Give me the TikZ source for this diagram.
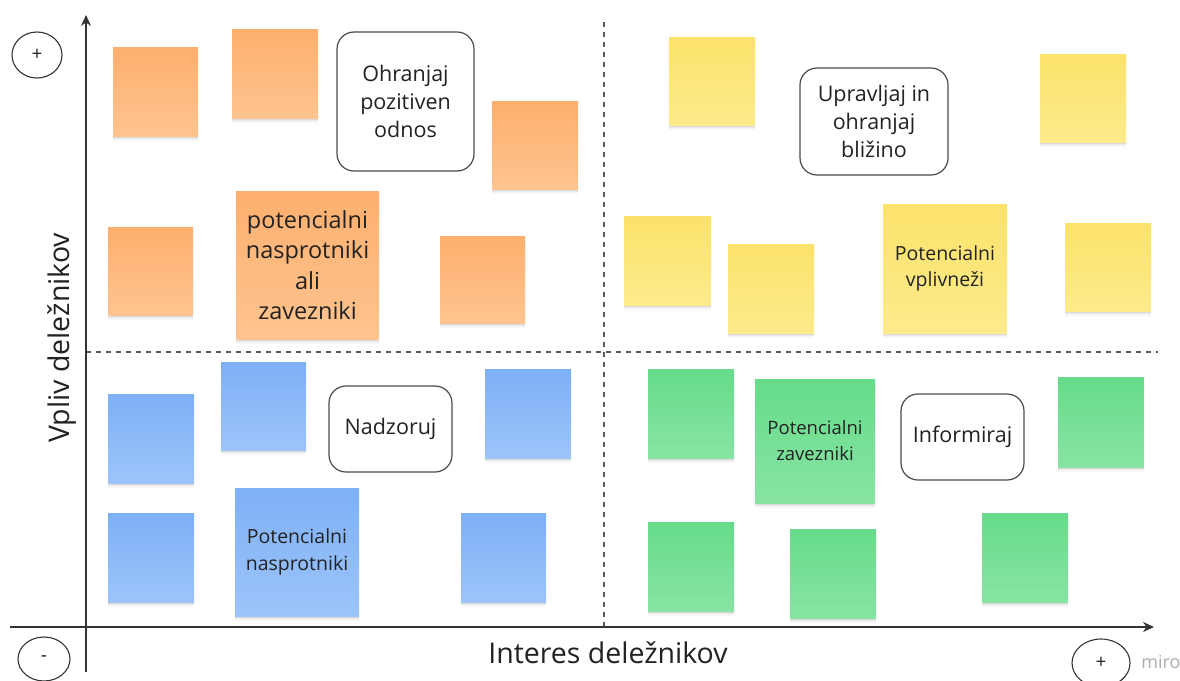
\documentclass[tikz,border=0pt]{standalone}
\usepackage{fontspec}
\setmainfont{Open Sans}
\usetikzlibrary{arrows.meta,shapes.geometric}

\definecolor{ink}{HTML}{222222}
\definecolor{axis}{HTML}{333333}
\definecolor{frame}{HTML}{4A4A4A}
\definecolor{orangeT}{HTML}{FDAF6E}
\definecolor{orangeB}{HTML}{FFC48F}
\definecolor{yellowT}{HTML}{FBE26A}
\definecolor{yellowB}{HTML}{FDEB8C}
\definecolor{blueT}{HTML}{7EB0F5}
\definecolor{blueB}{HTML}{9DC4FA}
\definecolor{greenT}{HTML}{66DC8A}
\definecolor{greenB}{HTML}{88E4A3}

\tikzset{
  % sticky note with a soft shadow falling below it
  note/.style={rectangle, inner sep=0pt, draw=none, text=ink, align=center,
    preaction={fill=black, opacity=0.035, transform canvas={yshift=-5pt}},
    preaction={fill=black, opacity=0.05, transform canvas={yshift=-3pt}},
    preaction={fill=black, opacity=0.06, transform canvas={yshift=-1.5pt}}},
  orangenote/.style={note, top color=orangeT, bottom color=orangeB},
  yellownote/.style={note, top color=yellowT, bottom color=yellowB},
  bluenote/.style={note, top color=blueT, bottom color=blueB},
  greennote/.style={note, top color=greenT, bottom color=greenB},
  actionbox/.style={rectangle, rounded corners=17pt, draw=frame, line width=1.2pt, fill=white,
    inner sep=0pt, text=ink, align=center, font=\fontsize{21.5}{28}\selectfont},
  signmark/.style={ellipse, draw=axis, line width=1.1pt, inner sep=0pt, text=ink,
    font=\fontsize{19}{20}\selectfont},
  axisline/.style={draw=axis, line width=1.6pt},
  quadline/.style={draw=black!65, line width=1.1pt, dash pattern=on 5pt off 5pt},
}

\begin{document}
\begin{tikzpicture}[x=1pt,y=-1pt]
\useasboundingbox (0,0) rectangle (1180,680);
\fill[white] (0,0) rectangle (1180,680);

% quadrant dividers
\coordinate (vtop) at (604,22);
\coordinate (vbot) at (604,627);
\coordinate (hl) at (86,352);
\coordinate (hr) at (1158,352);
\draw[quadline] (vtop) -- (vbot);
\draw[quadline] (hl) -- (hr);

% axes
\coordinate (ytop) at (86,15);
\coordinate (ybot) at (86,672);
\coordinate (xl) at (10,627);
\coordinate (xr) at (1154,627);
\draw[axisline, -{Stealth[length=11pt,width=10pt]}] (ybot) -- (ytop);
\draw[axisline, -{Stealth[length=11pt,width=10pt]}] (xl) -- (xr);

% axis labels
\node[text=ink, rotate=90, font=\fontsize{28.5}{32}\selectfont] (ylab) at (62,338) {Vpliv deležnikov};
\node[text=ink, font=\fontsize{28.5}{32}\selectfont] (xlab) at (608,653) {Interes deležnikov};

% high / low markers
\node[signmark, minimum width=50pt, minimum height=46pt] (hiY) at (37,55) {+};
\node[signmark, minimum width=52pt, minimum height=44pt] (lo) at (44,659) {-};
\node[signmark, minimum width=58pt, minimum height=48pt] (hiX) at (1101,663) {+};
\node[text=black!32, font=\fontsize{18}{20}\selectfont] (brand) at (1161,662) {miro};

% high influence, low interest
\node[orangenote, minimum width=85pt, minimum height=89pt] (o1) at (155.5,91.5) {};
\node[orangenote, minimum width=86pt, minimum height=89pt] (o2) at (275,73.5) {};
\node[orangenote, minimum width=86pt, minimum height=88pt] (o3) at (535,145) {};
\node[orangenote, minimum width=85pt, minimum height=88pt] (o4) at (150.5,271) {};
\node[orangenote, minimum width=143pt, minimum height=148pt, font=\fontsize{23.5}{30.5}\selectfont] (o5) at (307.5,265)
  {potencialni\\nasprotniki\\ali\\zavezniki};
\node[orangenote, minimum width=85pt, minimum height=87pt] (o6) at (482.5,279.5) {};
\node[actionbox, minimum width=137pt, minimum height=139pt] (keep) at (405.5,101.5)
  {Ohranjaj\\pozitiven\\odnos};

% high influence, high interest
\node[yellownote, minimum width=86pt, minimum height=88pt] (y1) at (712,81) {};
\node[yellownote, minimum width=86pt, minimum height=88pt] (y2) at (1083,98) {};
\node[yellownote, minimum width=87pt, minimum height=89pt] (y3) at (667.5,260.5) {};
\node[yellownote, minimum width=86pt, minimum height=89pt] (y4) at (771,288.5) {};
\node[yellownote, minimum width=124pt, minimum height=129pt, font=\fontsize{19.5}{26}\selectfont] (y5) at (945,268.5)
  {Potencialni\\vplivneži};
\node[yellownote, minimum width=86pt, minimum height=88pt] (y6) at (1108,267) {};
\node[actionbox, minimum width=148pt, minimum height=107pt] (manage) at (874,121.5)
  {Upravljaj in\\ohranjaj\\bližino};

% low influence, low interest
\node[bluenote, minimum width=86pt, minimum height=89pt] (b1) at (151,438.5) {};
\node[bluenote, minimum width=85pt, minimum height=88pt] (b2) at (263.5,406) {};
\node[bluenote, minimum width=86pt, minimum height=89pt] (b3) at (528,413.5) {};
\node[bluenote, minimum width=86pt, minimum height=89pt] (b4) at (151,557.5) {};
\node[bluenote, minimum width=124pt, minimum height=128pt, font=\fontsize{19.5}{27}\selectfont] (b5) at (297,552)
  {Potencialni\\nasprotniki};
\node[bluenote, minimum width=85pt, minimum height=89pt] (b6) at (503.5,557.5) {};
\node[actionbox, minimum width=123pt, minimum height=86pt] (watch) at (390.5,429) {Nadzoruj};

% low influence, high interest
\node[greennote, minimum width=86pt, minimum height=89pt] (g1) at (691,413.5) {};
\node[greennote, minimum width=120pt, minimum height=124pt, font=\fontsize{18.5}{26}\selectfont] (g2) at (815,441)
  {Potencialni\\zavezniki};
\node[greennote, minimum width=86pt, minimum height=90pt] (g3) at (1101,422) {};
\node[greennote, minimum width=86pt, minimum height=89pt] (g4) at (691,566.5) {};
\node[greennote, minimum width=86pt, minimum height=89pt] (g5) at (833,573.5) {};
\node[greennote, minimum width=86pt, minimum height=89pt] (g6) at (1025,557.5) {};
\node[actionbox, minimum width=123pt, minimum height=86pt] (inform) at (962.5,437) {Informiraj};
\end{tikzpicture}
\end{document}
